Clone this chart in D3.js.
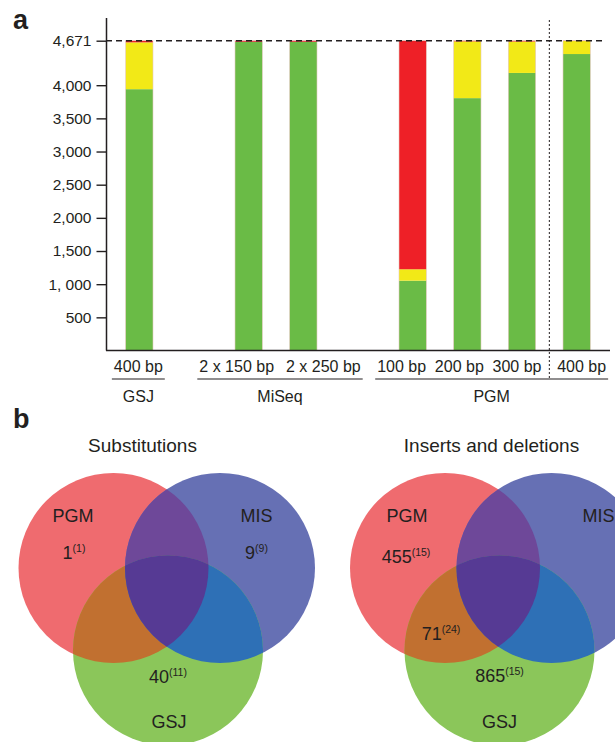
<!DOCTYPE html>
<html>
<head>
<meta charset="utf-8">
<script src="https://cdn.jsdelivr.net/npm/d3@7"></script>
<style>
  body { margin: 0; background: #fff; }
  text { font-family: "Liberation Sans", Arial, sans-serif; fill: #231f20; }
</style>
</head>
<body>
<div id="chart"></div>
<script>
// ---- panel a data ----
const runs = ["400 bp", "2 x 150 bp", "2 x 250 bp", "100 bp", "200 bp", "300 bp", "400 bp"]
const platforms = ["GSJ", "MiSeq", "MiSeq", "PGM", "PGM", "PGM", "PGM"]
const greenVals = [3940, 4655, 4655, 1053, 3805, 4185, 4470]
const yellowVals = [706, 0, 0, 172, 856, 474, 196]
const redVals = [25, 16, 16, 3446, 10, 12, 5]
const genomeTotal = 4671
const yTicks = [500, 1000, 1500, 2000, 2500, 3000, 3500, 4000, 4671]
const yTickLabels = ["500", "1, 000", "1,500", "2,000", "2,500", "3,000", "3,500", "4,000", "4,671"]

// ---- panel b data ----
const vennSets = ["PGM", "MIS", "GSJ"]
const substCounts = [{ region: "PGM", n: 1, sub: 1 }, { region: "MIS", n: 9, sub: 9 }, { region: "GSJ", n: 40, sub: 11 }]
const indelCounts = [{ region: "PGM", n: 455, sub: 15 }, { region: "PGM-GSJ", n: 71, sub: 24 }, { region: "GSJ", n: 865, sub: 15 }]

const svgWidth = 615
const svgHeight = 742

const svg = d3.select("#chart").append("svg")
  .attr("width", svgWidth)
  .attr("height", svgHeight)

// ================= panel a =================
svg.append("text").attr("x", 13).attr("y", 29)
  .attr("font-size", 27).attr("font-weight", "bold").text("a")

// slots with a blank between platforms
const slots = []
runs.forEach((r, i) => {
  if (i > 0 && platforms[i] !== platforms[i - 1]) slots.push("gap" + i)
  slots.push(platforms[i] + "|" + r)
})

const x = d3.scaleBand().domain(slots).range([112, 604])
  .paddingInner(0.5).paddingOuter(0.25)
const y = d3.scaleLinear().domain([0, genomeTotal]).range([350.5, 40.7])

const table = runs.map((r, i) => ({
  key: platforms[i] + "|" + r, green: greenVals[i], yellow: yellowVals[i], red: redVals[i]
}))
const stack = d3.stack().keys(["green", "yellow", "red"])(table)
const barColors = { green: "#6abb46", yellow: "#f2e917", red: "#ee2027" }

svg.append("g").selectAll("g")
  .data(stack)
  .enter().append("g")
  .attr("fill", s => barColors[s.key])
  .selectAll("rect")
  .data(s => s)
  .enter().append("rect")
  .attr("x", d => x(d.data.key))
  .attr("width", x.bandwidth())
  .attr("y", d => y(d[1]))
  .attr("height", d => y(d[0]) - y(d[1]))

// faint outline round each bar
svg.append("g").selectAll("rect")
  .data(table)
  .enter().append("rect")
  .attr("x", d => x(d.key))
  .attr("width", x.bandwidth())
  .attr("y", y(genomeTotal))
  .attr("height", y(0) - y(genomeTotal))
  .attr("fill", "none")
  .attr("stroke", "#e3c9bf")
  .attr("stroke-width", 0.6)

// y axis
const yAxis = d3.axisLeft(y).tickValues(yTicks)
  .tickFormat((d, i) => yTickLabels[i]).tickSize(10).tickPadding(5)
const yG = svg.append("g").attr("transform", "translate(106.5,0)").call(yAxis)
yG.select(".domain").remove()
yG.selectAll("line").attr("stroke", "#231f20").attr("stroke-width", 1.4)
yG.selectAll("text").attr("font-size", 15.5).attr("fill", "#231f20")
  .attr("font-family", "Liberation Sans, Arial, sans-serif")

svg.append("line").attr("x1", 106.5).attr("x2", 106.5).attr("y1", 18).attr("y2", y(0))
  .attr("stroke", "#231f20").attr("stroke-width", 1.5)
svg.append("line").attr("x1", 106).attr("x2", 610).attr("y1", y(0)).attr("y2", y(0))
  .attr("stroke", "#231f20").attr("stroke-width", 1.5)

// genome size line
svg.append("line").attr("x1", 106).attr("x2", 604)
  .attr("y1", y(genomeTotal)).attr("y2", y(genomeTotal))
  .attr("stroke", "#231f20").attr("stroke-width", 1.4).attr("stroke-dasharray", "6,4")

// divider between PGM 300 and 400 bp
const divX = (x("PGM|300 bp") + x("PGM|400 bp") + x.bandwidth()) / 2
svg.append("line").attr("x1", divX).attr("x2", divX).attr("y1", 20).attr("y2", 379)
  .attr("stroke", "#231f20").attr("stroke-width", 1).attr("stroke-dasharray", "2,2")

// run labels (nudged sideways so they don't collide)
const labelShift = [-1, -12, 20, -11, -8, -5, 5]
const runLabels = svg.append("g").selectAll("text")
  .data(table)
  .enter().append("text")
  .attr("x", (d, i) => x(d.key) + x.bandwidth() / 2 + labelShift[i])
  .attr("y", 372)
  .attr("text-anchor", "middle")
  .attr("font-size", 16)
  .text((d, i) => runs[i])

const extents = {}
runLabels.each(function (d, i) {
  const w = this.getComputedTextLength()
  const c = x(d.key) + x.bandwidth() / 2 + labelShift[i]
  const p = platforms[i]
  if (!extents[p]) extents[p] = [Infinity, -Infinity]
  extents[p][0] = Math.min(extents[p][0], c - w / 2)
  extents[p][1] = Math.max(extents[p][1], c + w / 2)
})
const groups = Object.keys(extents)
svg.append("g").selectAll("line").data(groups).enter().append("line")
  .attr("x1", g => extents[g][0] - 2).attr("x2", g => extents[g][1] + 2)
  .attr("y1", 379).attr("y2", 379)
  .attr("stroke", "#231f20").attr("stroke-width", 1.2)
svg.append("g").selectAll("text").data(groups).enter().append("text")
  .attr("x", g => (extents[g][0] + extents[g][1]) / 2)
  .attr("y", 402).attr("text-anchor", "middle").attr("font-size", 16)
  .text(g => g)

// ================= panel b =================
svg.append("text").attr("x", 13).attr("y", 428)
  .attr("font-size", 27).attr("font-weight", "bold").text("b")

const r = 95
const offsets = { PGM: [-53.5, -41], MIS: [53, -41], GSJ: [1, 41.5] }
const setColors = { PGM: "#ef6b6f", MIS: "#6670b4", GSJ: "#8bc65a" }
const pairColors = { "PGM-MIS": "#6e4899", "PGM-GSJ": "#c17030", "MIS-GSJ": "#2e70b6", all: "#563a94" }

function venn(id, cx, cy, title, titleX, counts, labelPos, setLabelPos) {
  const g = svg.append("g")
  const defs = g.append("defs")
  vennSets.forEach(s => {
    defs.append("clipPath").attr("id", id + s).append("circle")
      .attr("cx", cx + offsets[s][0]).attr("cy", cy + offsets[s][1]).attr("r", r)
  })
  const circ = (parent, s, fill) => parent.append("circle")
    .attr("cx", cx + offsets[s][0]).attr("cy", cy + offsets[s][1]).attr("r", r).attr("fill", fill)

  vennSets.forEach(s => circ(g, s, setColors[s]))
  circ(g.append("g").attr("clip-path", `url(#${id}PGM)`), "MIS", pairColors["PGM-MIS"])
  circ(g.append("g").attr("clip-path", `url(#${id}PGM)`), "GSJ", pairColors["PGM-GSJ"])
  circ(g.append("g").attr("clip-path", `url(#${id}MIS)`), "GSJ", pairColors["MIS-GSJ"])
  circ(g.append("g").attr("clip-path", `url(#${id}PGM)`)
    .append("g").attr("clip-path", `url(#${id}MIS)`), "GSJ", pairColors.all)

  g.append("text").attr("x", titleX).attr("y", 452).attr("text-anchor", "middle")
    .attr("font-size", 19).text(title)

  vennSets.forEach(s => {
    const p = setLabelPos[s]
    g.append("text").attr("x", p[0]).attr("y", p[1])
      .attr("text-anchor", p[2] || "middle").attr("font-size", 18).text(s)
  })

  counts.forEach(c => {
    const p = labelPos[c.region]
    const t = g.append("text").attr("x", p[0]).attr("y", p[1])
      .attr("text-anchor", "middle").attr("font-size", 18)
    t.append("tspan").text(c.n)
    t.append("tspan").attr("font-size", 10.5).attr("dy", -7).text("(" + c.sub + ")")
  })
}

venn("vs", 167, 609, "Substitutions", 142.5, substCounts,
  { PGM: [74, 559], MIS: [256.5, 559], GSJ: [168, 683] },
  { PGM: [73, 522], MIS: [256.5, 522], GSJ: [169, 728] })

venn("vi", 498.5, 609, "Inserts and deletions", 491.5, indelCounts,
  { PGM: [406, 562.5], "PGM-GSJ": [441, 640], GSJ: [499.5, 682] },
  { PGM: [407, 522], MIS: [582.5, 522, "start"], GSJ: [499.5, 728] })
</script>
</body>
</html>
